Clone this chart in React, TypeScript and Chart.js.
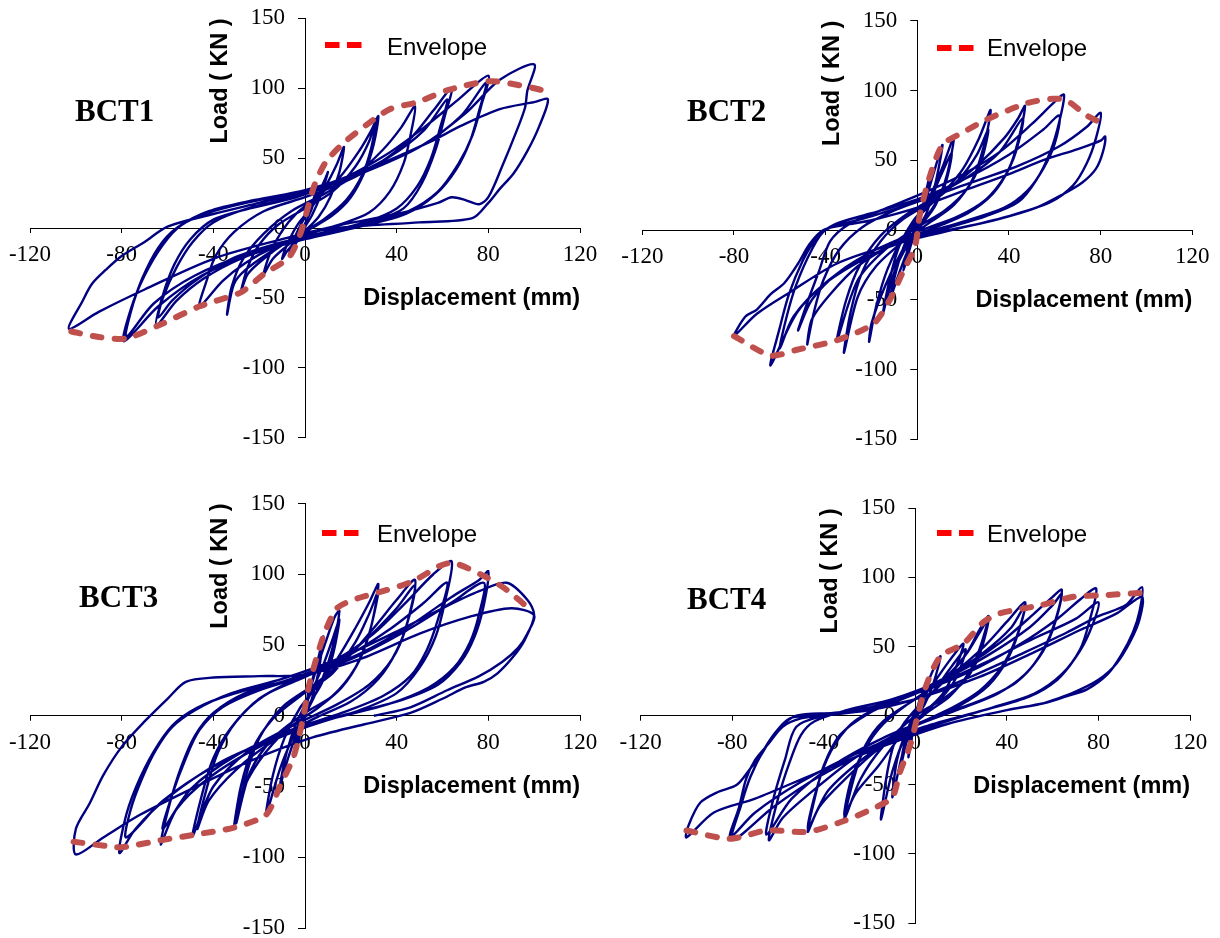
import React, { useEffect, useRef } from 'react';
import { Chart, registerables } from 'chart.js';

Chart.register(...registerables);

type Pt = [number, number];

// ---------- axes ----------
const X_MIN = -120;
const X_MAX = 120;
const X_STEP = 40;
const Y_MIN = -150;
const Y_MAX = 150;
const Y_STEP = 50;
const X_TITLE = 'Displacement (mm)';
const Y_TITLE = 'Load ( KN )';
const LEGEND_LABEL = 'Envelope';
const LOOP_LABEL = 'Hysteresis';
const SPECIMENS = ['BCT1', 'BCT2', 'BCT3', 'BCT4'];

// ---------- BCT1 ----------
const BCT1_LOOP: Pt[] = [
  [0, 0], [2, 12], [4, 22], [5, 26],
  [3, 14], [0, 3], [-3, -8], [-5, -14], [-7, -20],
  [-5, -9], [-2, 2], [2, 13], [6, 25], [9, 36], [10, 40],
  [7, 24], [3, 9], [0, 1], [-4, -9], [-8, -17], [-10, -22],
  [-7, -9], [-3, 3], [3, 15], [9, 30], [14, 46], [17, 58],
  [15, 40], [11, 22], [6, 8], [0, -2], [-8, -13], [-14, -22], [-18, -33],
  [-15, -17], [-10, -2], [-4, 10], [5, 22], [15, 36], [24, 56], [29, 70], [32, 80],
  [30, 60], [26, 40], [20, 22], [12, 9], [3, 0], [-8, -10], [-18, -22], [-25, -33], [-28, -46],
  [-25, -28], [-20, -12], [-12, 2], [0, 14], [12, 26], [22, 44], [28, 62], [31, 78],
  [29, 58], [25, 38], [18, 20], [8, 6], [-4, -6], [-16, -18], [-26, -30], [-31, -40], [-34, -62],
  [-32, -42], [-27, -22], [-18, -4], [-6, 12], [8, 24], [22, 38], [34, 56], [42, 72], [48, 87],
  [46, 66], [43, 46], [37, 26], [28, 11], [16, 3], [0, -5], [-14, -14], [-26, -25], [-36, -38], [-46, -56],
  [-43, -38], [-39, -20], [-31, -3], [-18, 12], [0, 22], [16, 32], [32, 46], [46, 64], [56, 84], [64, 100],
  [61, 80], [57, 56], [51, 32], [43, 14], [30, 5], [10, -3], [-10, -12], [-28, -22], [-44, -36], [-56, -52], [-65, -70],
  [-62, -48], [-57, -26], [-50, -8], [-40, 6], [-24, 14], [-4, 22], [16, 34], [36, 50], [52, 70], [62, 92],
  [59, 72], [55, 50], [49, 30], [40, 14], [26, 4], [6, -4], [-14, -12], [-32, -22], [-48, -38], [-58, -52], [-64, -64],
  [-62, -50], [-56, -28], [-49, -10], [-40, 4], [-25, 14], [-5, 22], [15, 34], [35, 52], [52, 72], [67, 92], [80, 109],
  [77, 88], [73, 66], [67, 46], [58, 26], [45, 12], [25, 2], [0, -8], [-22, -18], [-45, -34], [-64, -56], [-79, -81],
  [-76, -58], [-70, -34], [-62, -12], [-54, 2], [-40, 12], [-20, 20], [2, 26], [26, 40], [50, 58], [68, 80], [79, 104],
  [76, 84], [72, 62], [66, 42], [57, 24], [44, 10], [24, 1], [0, -8], [-24, -18], [-48, -34], [-66, -54], [-78, -78],
  [-76, -60], [-71, -36], [-64, -14], [-56, 0], [-42, 12], [-22, 20], [0, 27], [25, 40], [50, 58], [70, 82], [85, 106], [100, 117],
  [97, 98], [96, 86], [92, 68], [86, 44], [80, 22], [76, 17], [70, 20], [64, 22], [58, 18], [40, 10], [15, 2], [-10, -8], [-40, -22], [-70, -44], [-90, -60], [-103, -72],
  [-97, -52], [-93, -40], [-87, -30], [-80, -20], [-70, -10], [-60, 1], [-40, 10], [-20, 18], [0, 26], [30, 44], [55, 62], [68, 73], [85, 85], [100, 90], [106, 92],
  [102, 72], [97, 55], [91, 39], [85, 28], [80, 18], [73, 7], [50, 4], [20, 1], [0, -3],
];
const BCT1_ENVELOPE: Pt[] = [
  [-102, -74], [-90, -78], [-78, -79], [-63, -69], [-46, -56], [-28, -46], [-18, -33], [-7, -21], [-2, -4],
  [4, 30], [9, 47], [17, 61], [27, 74], [37, 85], [49, 90], [63, 99], [81, 105], [97, 101], [105, 98],
];

// ---------- BCT2 ----------
const BCT2_LOOP: Pt[] = [
  [0, 0], [2, 14], [5, 36],
  [3, 18], [0, 3], [-3, -12], [-6, -29],
  [-4, -12], [-1, 2], [3, 18], [7, 40], [11, 61],
  [8, 34], [4, 12], [0, 0], [-5, -18], [-9, -36], [-12, -50],
  [-9, -28], [-5, -8], [0, 8], [6, 26], [11, 45], [16, 67],
  [13, 40], [8, 18], [2, 4], [-4, -10], [-10, -30], [-15, -60],
  [-12, -35], [-8, -12], [-2, 6], [5, 20], [10, 38], [15, 55],
  [12, 32], [6, 14], [0, 2], [-7, -16], [-14, -40], [-20, -67], [-21, -80],
  [-18, -55], [-13, -28], [-6, -5], [2, 12], [12, 28], [20, 44], [27, 66], [32, 86],
  [29, 60], [24, 36], [16, 18], [6, 6], [-6, -8], [-18, -26], [-26, -48], [-32, -88],
  [-29, -58], [-24, -30], [-16, -8], [-6, 8], [8, 22], [18, 36], [26, 54], [31, 72],
  [28, 50], [22, 30], [12, 14], [0, 2], [-14, -14], [-26, -36], [-35, -79],
  [-31, -50], [-25, -25], [-16, -4], [-4, 12], [12, 28], [26, 46], [38, 66], [44, 80], [47, 89],
  [44, 64], [40, 44], [33, 26], [22, 12], [8, 2], [-10, -10], [-26, -26], [-38, -46], [-46, -64], [-48, -82],
  [-45, -58], [-41, -36], [-34, -14], [-24, 2], [-10, 14], [6, 24], [22, 38], [36, 56], [46, 80],
  [43, 56], [38, 38], [30, 22], [18, 10], [2, 0], [-18, -14], [-34, -30], [-46, -50], [-52, -72],
  [-48, -52], [-43, -30], [-38, -8], [-30, 4], [-16, 14], [2, 26], [20, 40], [36, 56], [50, 76], [60, 92], [64, 97],
  [62, 78], [58, 56], [52, 36], [44, 20], [30, 10], [10, 0], [-12, -12], [-34, -30], [-52, -58], [-64, -97],
  [-60, -70], [-56, -46], [-50, -22], [-44, -6], [-36, 4], [-20, 12], [0, 22], [20, 36], [40, 54], [55, 72], [62, 82],
  [60, 62], [55, 44], [48, 28], [38, 16], [20, 6], [0, -4], [-20, -18], [-40, -38], [-54, -62], [-60, -85],
  [-57, -62], [-53, -40], [-46, -14], [-40, 0], [-24, 8], [-4, 18], [20, 32], [44, 46], [62, 60], [74, 74], [80, 84],
  [78, 66], [74, 48], [68, 32], [58, 20], [40, 10], [15, 0], [-10, -10], [-35, -24], [-55, -44], [-70, -60], [-80, -76],
  [-75, -62], [-70, -57], [-64, -46], [-58, -38], [-52, -24], [-47, -10], [-41, 0], [-30, 4], [-20, 7], [0, 16], [20, 28], [40, 40], [55, 50], [70, 58], [80, 64], [82, 67],
  [81, 56], [78, 44], [72, 34], [64, 26], [52, 16], [36, 8], [20, 2], [0, -4],
];
const BCT2_ENVELOPE: Pt[] = [
  [-80, -76], [-64, -90], [-53, -86], [-35, -79], [-19, -67], [-12, -50], [-6, -29], [-1, -12],
  [1, 10], [5, 36], [11, 61], [20, 70], [30, 79], [48, 91], [59, 94], [65, 93], [74, 82], [80, 77],
];

// ---------- BCT3 ----------
const BCT3_LOOP: Pt[] = [
  [0, 0], [1, 12], [2, 23],
  [1, 8], [0, 0], [-2, -12], [-3, -20],
  [-2, -8], [0, 4], [3, 24], [6, 42], [8, 56],
  [6, 32], [3, 12], [0, 0], [-3, -14], [-5, -29],
  [-3, -10], [0, 6], [4, 28], [9, 52], [13, 70], [15, 74],
  [12, 48], [8, 28], [3, 10], [-2, -6], [-7, -28], [-11, -50],
  [-8, -26], [-4, -6], [2, 14], [8, 36], [12, 54], [15, 68],
  [12, 42], [7, 22], [1, 6], [-5, -14], [-11, -38], [-17, -70],
  [-14, -42], [-9, -16], [-2, 6], [6, 22], [14, 40], [22, 62], [28, 80], [32, 93],
  [29, 64], [24, 40], [16, 20], [6, 6], [-8, -10], [-20, -32], [-28, -56], [-31, -79],
  [-28, -50], [-23, -24], [-14, -2], [-2, 14], [12, 30], [22, 52], [28, 72], [32, 88],
  [28, 58], [22, 34], [12, 14], [0, 2], [-14, -16], [-24, -40], [-30, -76],
  [-26, -44], [-20, -16], [-10, 6], [4, 22], [18, 40], [30, 62], [40, 82], [48, 96],
  [45, 68], [40, 46], [32, 26], [20, 10], [4, -2], [-14, -18], [-30, -38], [-42, -60], [-47, -80],
  [-43, -52], [-38, -26], [-30, -4], [-18, 14], [-2, 26], [14, 38], [28, 56], [40, 76], [48, 92],
  [44, 62], [38, 40], [28, 22], [14, 8], [-4, -6], [-24, -24], [-40, -50], [-49, -85],
  [-45, -56], [-40, -30], [-32, -8], [-20, 12], [-4, 26], [14, 40], [30, 58], [44, 80], [56, 100], [64, 109],
  [61, 80], [57, 56], [50, 34], [40, 16], [24, 4], [4, -6], [-20, -22], [-42, -44], [-56, -66], [-63, -91],
  [-59, -62], [-54, -36], [-48, -14], [-40, 2], [-26, 16], [-6, 26], [16, 40], [36, 60], [52, 80], [62, 94],
  [58, 68], [53, 46], [46, 28], [34, 14], [16, 2], [-6, -10], [-30, -28], [-50, -52], [-62, -80],
  [-58, -56], [-52, -30], [-46, -10], [-36, 6], [-20, 18], [0, 28], [24, 44], [46, 64], [64, 84], [76, 96], [80, 102],
  [78, 78], [74, 56], [68, 38], [58, 22], [40, 10], [16, 0], [-10, -14], [-36, -32], [-60, -58], [-74, -80], [-81, -97],
  [-78, -70], [-72, -44], [-64, -20], [-56, -4], [-44, 8], [-26, 18], [-4, 26], [20, 40], [44, 60], [64, 80], [78, 94],
  [76, 72], [72, 52], [65, 34], [54, 20], [36, 8], [12, -2], [-14, -16], [-40, -36], [-62, -60], [-78, -86],
  [-76, -66], [-71, -44], [-65, -24], [-58, -8], [-48, 4], [-32, 16], [-10, 26], [14, 40], [38, 58], [60, 76], [76, 88], [88, 94], [97, 82], [100, 71],
  [96, 54], [91, 42], [84, 30], [78, 24], [70, 20], [60, 12], [46, 2], [26, -6], [2, -16], [-24, -32], [-50, -52], [-72, -70], [-88, -86], [-100, -98],
  [-100, -80], [-94, -62], [-88, -42], [-80, -22], [-70, -4], [-60, 12], [-52, 24], [-40, 27], [-20, 28], [0, 29], [24, 40], [50, 58], [72, 70], [90, 76], [100, 71],
  [97, 58], [93, 48], [86, 38], [76, 28], [62, 18], [46, 6], [30, 0],
];
const BCT3_ENVELOPE: Pt[] = [
  [-101, -89], [-87, -92], [-80, -93], [-63, -88], [-48, -84], [-31, -79], [-17, -70], [-11, -50], [-5, -29], [-1, -3],
  [2, 23], [8, 56], [14, 76], [23, 83], [34, 88], [47, 95], [59, 106], [65, 108], [79, 98], [88, 89], [99, 74],
];

// ---------- BCT4 ----------
const BCT4_LOOP: Pt[] = [
  [0, 0], [2, 12], [5, 23],
  [3, 10], [0, 0], [-1, -10], [-3, -30],
  [-2, -12], [0, 2], [4, 18], [8, 34], [11, 43],
  [8, 24], [4, 8], [0, -2], [-4, -20], [-7, -42],
  [-5, -22], [-2, -4], [3, 12], [9, 26], [15, 40], [21, 52],
  [17, 32], [12, 16], [5, 4], [-2, -8], [-6, -30], [-10, -59],
  [-8, -32], [-4, -12], [2, 6], [9, 20], [16, 36], [22, 48],
  [18, 28], [12, 14], [4, 2], [-4, -14], [-10, -40], [-15, -75],
  [-13, -48], [-10, -24], [-6, -8], [2, 8], [12, 24], [22, 44], [28, 62], [32, 72],
  [28, 48], [23, 30], [15, 14], [5, 2], [-6, -14], [-16, -36], [-26, -56], [-31, -72],
  [-28, -46], [-22, -24], [-14, -6], [-2, 10], [12, 26], [22, 44], [28, 60], [32, 70],
  [28, 44], [22, 26], [12, 12], [0, 0], [-14, -22], [-24, -46], [-31, -75],
  [-27, -46], [-22, -22], [-14, -4], [0, 12], [16, 30], [30, 50], [40, 68], [48, 82],
  [45, 60], [40, 40], [32, 22], [20, 8], [4, -4], [-16, -24], [-32, -48], [-42, -66], [-47, -84],
  [-44, -60], [-40, -36], [-33, -14], [-20, 2], [-4, 14], [14, 28], [30, 46], [42, 64], [48, 80],
  [44, 56], [38, 36], [28, 18], [14, 4], [-4, -10], [-22, -30], [-38, -54], [-47, -82],
  [-43, -52], [-37, -26], [-28, -6], [-14, 8], [4, 20], [22, 36], [38, 54], [52, 74], [60, 86], [64, 91],
  [61, 68], [56, 48], [48, 30], [36, 16], [18, 4], [-4, -10], [-26, -30], [-46, -56], [-58, -74], [-64, -90],
  [-60, -60], [-55, -34], [-50, -14], [-44, -4], [-30, 4], [-10, 12], [12, 26], [32, 44], [50, 64], [60, 80], [64, 88],
  [60, 62], [54, 42], [44, 24], [30, 12], [10, 0], [-14, -16], [-36, -36], [-54, -60], [-65, -86],
  [-62, -60], [-57, -32], [-52, -8], [-40, 0], [-20, 6], [0, 16], [24, 32], [46, 52], [62, 70], [72, 84], [79, 92],
  [76, 68], [72, 48], [64, 30], [52, 16], [34, 6], [10, -6], [-16, -22], [-42, -44], [-62, -66], [-80, -90],
  [-76, -64], [-72, -44], [-66, -24], [-60, -10], [-52, 0], [-36, 2], [-16, 6], [6, 20], [30, 38], [52, 56], [70, 70], [80, 82],
  [76, 60], [70, 42], [62, 26], [50, 14], [30, 4], [4, -8], [-24, -26], [-50, -48], [-70, -70], [-81, -88],
  [-77, -66], [-74, -46], [-70, -32], [-64, -20], [-58, -8], [-50, -2], [-40, 0], [-20, 4], [0, 12], [24, 28], [48, 46], [66, 60], [80, 72], [92, 80], [99, 93],
  [98, 76], [95, 60], [90, 44], [84, 30], [75, 19], [66, 14], [56, 9], [40, 4], [14, -6], [-14, -22], [-44, -42], [-70, -60], [-88, -70], [-100, -88],
  [-99, -79], [-94, -63], [-86, -55], [-78, -50], [-72, -38], [-68, -30], [-62, -14], [-55, -2], [-44, 0], [-24, 4], [0, 12], [28, 28], [52, 46], [72, 62], [88, 74], [99, 86],
  [98, 70], [94, 54], [88, 38], [80, 26], [68, 16], [56, 9],
];
const BCT4_ENVELOPE: Pt[] = [
  [-100, -83], [-81, -89], [-65, -83], [-47, -84], [-31, -76], [-17, -66], [-10, -59], [-7, -42], [-2, -20], [1, 0],
  [5, 23], [11, 43], [21, 52], [30, 68], [37, 74], [55, 80], [69, 86], [81, 87], [100, 89],
];

const LOOPS: Pt[][] = [BCT1_LOOP, BCT2_LOOP, BCT3_LOOP, BCT4_LOOP];
const ENVELOPES: Pt[][] = [BCT1_ENVELOPE, BCT2_ENVELOPE, BCT3_ENVELOPE, BCT4_ENVELOPE];

// ---------- styles / layout ----------
const LOOP_COLOR = '#000080';
const ENV_COLOR = '#C0504D';
const LEGEND_COLOR = '#FF0000';
const TICK_FONT = 'Liberation Serif';
const TICK_SIZE = 23;
const TITLE_SIZE = 23.5;
const Y_TITLE_GAP = 84.5;
const X_TITLE_GAP = 70.5;

interface Layout {
  left: number; top: number; w: number; h: number;
  pad: { left: number; right: number; top: number; bottom: number };
  label: { x: number; y: number };
  legend: { lx: number; ly: number; tx: number; ty: number };
}

const LAYOUTS: Layout[] = [
  { left: 0, top: 0, w: 610, h: 469, pad: { left: 30, right: 30, top: 18.3, bottom: 31.3 },
    label: { x: 75, y: 94.5 }, legend: { lx: 325, ly: 45, tx: 387, ty: 34.7 } },
  { left: 610, top: 0, w: 610, h: 469, pad: { left: 32.3, right: 27.7, top: 20.7, bottom: 29.7 },
    label: { x: 687, y: 94.5 }, legend: { lx: 937, ly: 48.3, tx: 987, ty: 36.4 } },
  { left: 0, top: 469, w: 610, h: 469, pad: { left: 30, right: 30, top: 34.5, bottom: 10 },
    label: { x: 79, y: 581.2 }, legend: { lx: 322.3, ly: 533.3, tx: 377, ty: 521.7 } },
  { left: 610, top: 469, w: 610, h: 469, pad: { left: 30.7, right: 30, top: 39.3, bottom: 14.9 },
    label: { x: 687, y: 582.9 }, legend: { lx: 937, ly: 533.3, tx: 987, ty: 521.7 } },
];

const crossAxesPlugin = {
  id: 'crossAxes',
  afterLayout(chart: any) {
    const xs = chart.scales.x;
    const ys = chart.scales.y;
    const x0 = xs.getPixelForValue(0);
    const y0 = ys.getPixelForValue(0);
    const half = (TITLE_SIZE * 1.2) / 2;
    ys.right = x0;
    ys.left = x0 - Y_TITLE_GAP - half;
    ys.width = ys.right - ys.left;
    xs.top = y0;
    xs.bottom = y0 + X_TITLE_GAP + half;
    xs.height = xs.bottom - xs.top;
  },
};

const zeroFit = (horizontal: boolean) => (s: any) => {
  if (horizontal) s.height = 0; else s.width = 0;
  s.paddingLeft = 0; s.paddingRight = 0; s.paddingTop = 0; s.paddingBottom = 0;
};

function Panel({ idx }: { idx: number }) {
  const ref = useRef<HTMLCanvasElement>(null);
  const lay = LAYOUTS[idx];
  useEffect(() => {
    const chart = new Chart(ref.current as HTMLCanvasElement, {
      type: 'scatter',
      data: {
        datasets: [
          {
            label: LEGEND_LABEL,
            data: ENVELOPES[idx] as any,
            showLine: true,
            borderColor: ENV_COLOR,
            backgroundColor: ENV_COLOR,
            borderWidth: 6,
            borderDash: [9, 13],
            borderCapStyle: 'round',
            pointRadius: 0,
            tension: 0.25,
            fill: false,
          },
          {
            label: LOOP_LABEL,
            data: LOOPS[idx] as any,
            showLine: true,
            borderColor: LOOP_COLOR,
            backgroundColor: LOOP_COLOR,
            borderWidth: 2.4,
            borderJoinStyle: 'round',
            pointRadius: 0,
            tension: 0.3,
            fill: false,
          },
        ],
      },
      options: {
        responsive: false,
        animation: false,
        devicePixelRatio: 1,
        events: [],
        layout: { padding: lay.pad },
        plugins: { legend: { display: false }, tooltip: { enabled: false }, title: { display: false } },
        scales: {
          x: {
            type: 'linear',
            position: 'bottom',
            min: X_MIN,
            max: X_MAX,
            afterFit: zeroFit(true),
            ticks: { stepSize: X_STEP, color: '#000', font: { family: TICK_FONT, size: TICK_SIZE }, padding: 8, maxRotation: 0, autoSkip: false },
            grid: { display: true, drawOnChartArea: false, drawTicks: true, tickLength: 5, color: '#000', lineWidth: 1 },
            border: { display: true, color: '#000', width: 1 },
            title: { display: true, text: X_TITLE, align: 'end', color: '#000', padding: 0, font: { family: 'Liberation Sans', size: TITLE_SIZE, weight: 'bold' } },
          },
          y: {
            type: 'linear',
            position: 'left',
            min: Y_MIN,
            max: Y_MAX,
            afterFit: zeroFit(false),
            ticks: { stepSize: Y_STEP, color: '#000', font: { family: TICK_FONT, size: TICK_SIZE }, padding: 13, autoSkip: false },
            grid: { display: true, drawOnChartArea: false, drawTicks: true, tickLength: 7, color: '#000', lineWidth: 1 },
            border: { display: true, color: '#000', width: 1 },
            title: { display: true, text: Y_TITLE, align: 'end', color: '#000', padding: 0, font: { family: 'Liberation Sans', size: TITLE_SIZE, weight: 'bold' } },
          },
        },
      } as any,
      plugins: [crossAxesPlugin],
    });
    return () => chart.destroy();
  }, [idx]);

  return (
    <canvas
      ref={ref}
      width={lay.w}
      height={lay.h}
      style={{ position: 'absolute', left: lay.left, top: lay.top, width: lay.w, height: lay.h, display: 'block' }}
    />
  );
}

function Overlay({ idx }: { idx: number }) {
  const lay = LAYOUTS[idx];
  return (
    <>
      <div
        style={{
          position: 'absolute', left: lay.label.x, top: lay.label.y, font: 'bold 31px "Liberation Serif"',
          lineHeight: '31px', whiteSpace: 'nowrap', color: '#000',
        }}
      >
        {SPECIMENS[idx]}
      </div>
      <svg
        width={38}
        height={8}
        style={{ position: 'absolute', left: lay.legend.lx, top: lay.legend.ly - 4 }}
      >
        <line x1={0} y1={4} x2={37} y2={4} stroke={LEGEND_COLOR} strokeWidth={6} strokeDasharray="14.5 7.5" />
      </svg>
      <div
        style={{
          position: 'absolute', left: lay.legend.tx, top: lay.legend.ty, font: '24px "Liberation Sans"',
          lineHeight: '24px', whiteSpace: 'nowrap', color: '#000',
        }}
      >
        {LEGEND_LABEL}
      </div>
    </>
  );
}

export default function App() {
  return (
    <div
      style={{
        position: 'absolute', left: 0, top: 0, width: 1220, height: 938, overflow: 'hidden', background: '#fff',
      }}
    >
      {SPECIMENS.map((_, i) => (
        <Panel key={'p' + i} idx={i} />
      ))}
      {SPECIMENS.map((_, i) => (
        <Overlay key={'o' + i} idx={i} />
      ))}
    </div>
  );
}
